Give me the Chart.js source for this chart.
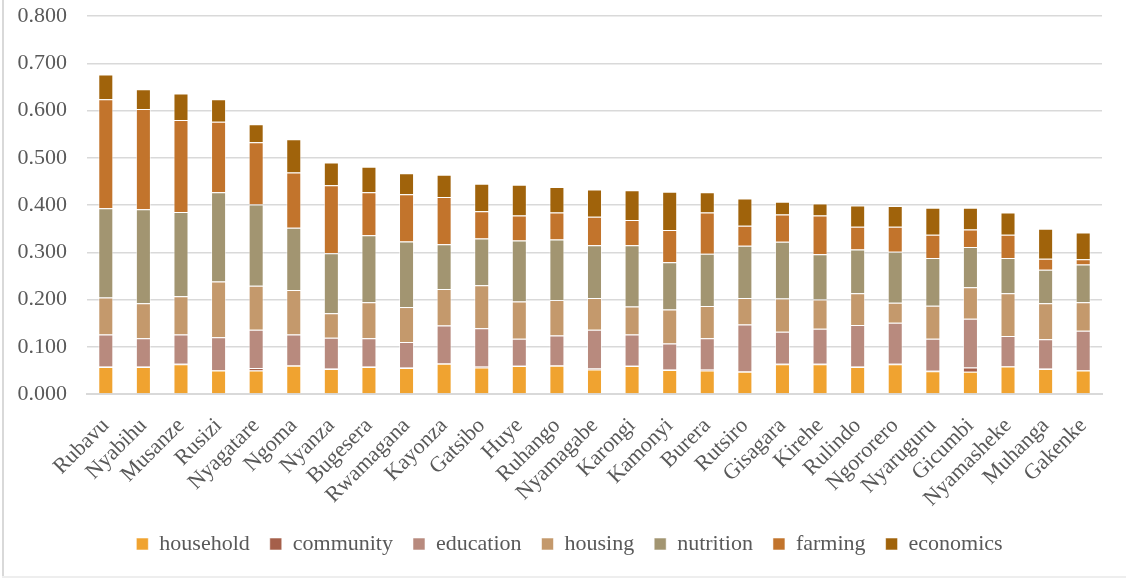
<!DOCTYPE html>
<html>
<head>
<meta charset="utf-8">
<title>Districts</title>
<script src="https://cdn.jsdelivr.net/npm/chart.js@4.4.1/dist/chart.umd.min.js"></script>
<style>
  html, body { margin: 0; padding: 0; background: #fff; }
  #marco { position: relative; width: 1126px; height: 578px; }
  #marco::before { content: ""; position: absolute; left: 2px; top: 0; bottom: 1px; border-left: 2px solid #d9d9d9; }
  #marco::after { content: ""; position: absolute; left: 2px; right: 0; bottom: 0; border-bottom: 2px solid #eeeeee; }
</style>
</head>
<body>
<div id="marco"><canvas id="grafico"></canvas></div>
<script>
const distritos = ["Rubavu", "Nyabihu", "Musanze", "Rusizi", "Nyagatare", "Ngoma", "Nyanza", "Bugesera", "Rwamagana",
  "Kayonza", "Gatsibo", "Huye", "Ruhango", "Nyamagabe", "Karongi", "Kamonyi", "Burera", "Rutsiro", "Gisagara",
  "Kirehe", "Rulindo", "Ngororero", "Nyaruguru", "Gicumbi", "Nyamasheke", "Muhanga", "Gakenke"];

const household = [0.057, 0.057, 0.063, 0.050, 0.050, 0.060, 0.053, 0.057, 0.055, 0.064, 0.056, 0.059, 0.060, 0.052,
  0.059, 0.051, 0.050, 0.047, 0.063, 0.063, 0.057, 0.063, 0.048, 0.047, 0.058, 0.053, 0.050];
const community = [0.001, 0.001, 0.001, 0.001, 0.005, 0.001, 0.001, 0.001, 0.001, 0.001, 0.003, 0.001, 0.001, 0.002,
  0.001, 0.001, 0.003, 0.001, 0.001, 0.001, 0.001, 0.001, 0.001, 0.009, 0.001, 0.001, 0.001];
const education = [0.068, 0.060, 0.062, 0.069, 0.081, 0.065, 0.065, 0.060, 0.054, 0.080, 0.080, 0.057, 0.063, 0.082,
  0.066, 0.055, 0.065, 0.099, 0.068, 0.074, 0.088, 0.087, 0.068, 0.103, 0.064, 0.062, 0.083];
const housing = [0.078, 0.074, 0.081, 0.118, 0.093, 0.094, 0.052, 0.076, 0.074, 0.077, 0.091, 0.079, 0.075, 0.067,
  0.059, 0.072, 0.068, 0.056, 0.070, 0.062, 0.067, 0.042, 0.070, 0.067, 0.090, 0.076, 0.060];
const nutrition = [0.189, 0.199, 0.178, 0.189, 0.172, 0.132, 0.127, 0.142, 0.139, 0.095, 0.099, 0.129, 0.128, 0.112,
  0.130, 0.100, 0.111, 0.111, 0.120, 0.096, 0.093, 0.108, 0.101, 0.085, 0.075, 0.071, 0.080];
const farming = [0.231, 0.212, 0.195, 0.149, 0.132, 0.117, 0.144, 0.091, 0.100, 0.100, 0.058, 0.053, 0.057, 0.060,
  0.053, 0.068, 0.087, 0.042, 0.058, 0.082, 0.048, 0.053, 0.049, 0.037, 0.049, 0.023, 0.011];
const economics = [0.052, 0.042, 0.056, 0.048, 0.038, 0.070, 0.048, 0.054, 0.044, 0.047, 0.058, 0.065, 0.054, 0.058,
  0.063, 0.081, 0.043, 0.058, 0.027, 0.025, 0.045, 0.044, 0.057, 0.046, 0.047, 0.064, 0.057];

const yMax = 0.8;
const yPaso = 0.1;

const series = [
  { label: "household", data: household, color: "#f0a330" },
  { label: "community", data: community, color: "#a55f4a" },
  { label: "education", data: education, color: "#b88a7e" },
  { label: "housing", data: housing, color: "#c4996c" },
  { label: "nutrition", data: nutrition, color: "#a29571" },
  { label: "farming", data: farming, color: "#c2742c" },
  { label: "economics", data: economics, color: "#a0630b" }
];

const fuente = "'Liberation Serif', 'Times New Roman', serif";
const gris = "#595959";

// la leyenda de Excel esta un poco corrida a la derecha
const moverLeyenda = {
  id: "moverLeyenda",
  afterLayout(chart) {
    chart.legend.left += 10;
    chart.legend.right += 10;
  }
};

function init() {
  const canvas = document.getElementById("grafico");
  new Chart(canvas, {
    type: "bar",
    data: {
      labels: distritos,
      datasets: series.map((s) => ({
        label: s.label,
        data: s.data,
        backgroundColor: s.color,
        borderColor: "rgba(255,255,255,0.55)",
        borderWidth: 1,
        barPercentage: 0.4,
        categoryPercentage: 1
      }))
    },
    plugins: [moverLeyenda],
    options: {
      responsive: true,
      maintainAspectRatio: false,
      animation: false,
      layout: { padding: { left: 17, right: 24, top: 16, bottom: 13 } },
      plugins: {
        tooltip: { enabled: false },
        legend: {
          position: "bottom",
          labels: {
            color: gris,
            font: { family: fuente, size: 22 },
            boxWidth: 12,
            boxHeight: 12,
            padding: 20
          }
        }
      },
      scales: {
        x: {
          stacked: true,
          afterFit: (escala) => {
            escala.height = 119;
            escala.paddingLeft = 0;
            escala.paddingRight = 0;
          },
          grid: { display: false, drawTicks: false },
          border: { color: "#d9d9d9", width: 2 },
          ticks: {
            color: gris,
            font: { family: fuente, size: 22 },
            minRotation: 45,
            maxRotation: 45,
            autoSkip: false,
            padding: 19
          }
        },
        y: {
          stacked: true,
          min: 0,
          max: yMax,
          afterFit: (escala) => {
            escala.width = 70;
            escala.paddingTop = 0;
            escala.paddingBottom = 0;
          },
          grid: { color: "#d9d9d9", lineWidth: 1.5, drawTicks: false },
          border: { display: false },
          ticks: {
            stepSize: yPaso,
            color: gris,
            font: { family: fuente, size: 22 },
            padding: 20,
            callback: (v) => Number(v).toFixed(3)
          }
        }
      }
    }
  });
}

if (document.readyState === "loading") {
  document.addEventListener("DOMContentLoaded", init);
} else {
  init();
}
</script>
</body>
</html>
